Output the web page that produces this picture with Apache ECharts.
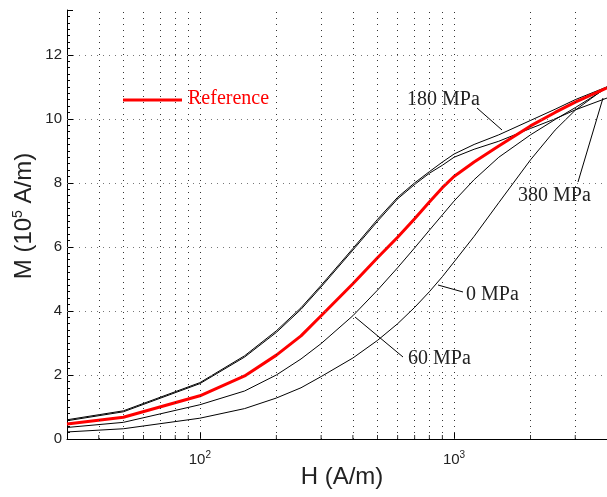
<!DOCTYPE html>
<html>
<head>
<meta charset="utf-8">
<script src="https://cdn.jsdelivr.net/npm/echarts@6/dist/echarts.min.js"></script>
<style>html,body{margin:0;padding:0;background:#fff;}#c{width:607px;height:497px;}</style>
</head>
<body>
<div id="c"></div>
<script>
// H values (A/m) at which curves are sampled
var H = [30, 50, 100, 150, 200, 250, 300, 400, 500, 600, 700, 800, 900, 1000, 1200, 1500, 2000, 2500, 3000, 4000];
// M values (10^5 A/m)
var m0MPa   = [0.22, 0.32, 0.65, 0.95, 1.28, 1.6, 1.95, 2.53, 3.08, 3.6, 4.11, 4.6, 5.07, 5.53, 6.33, 7.38, 8.72, 9.65, 10.27, 11.0];
var m60MPa  = [0.36, 0.52, 1.07, 1.5, 2.0, 2.5, 2.98, 3.85, 4.65, 5.35, 5.97, 6.52, 7.0, 7.43, 8.1, 8.8, 9.5, 9.98, 10.35, 10.97];
var mRef    = [0.47, 0.68, 1.35, 1.97, 2.62, 3.22, 3.85, 4.85, 5.66, 6.3, 6.88, 7.4, 7.85, 8.2, 8.65, 9.15, 9.78, 10.2, 10.52, 10.97];
var m180MPa = [0.6, 0.88, 1.76, 2.6, 3.38, 4.1, 4.8, 5.95, 6.86, 7.55, 8.0, 8.35, 8.65, 8.9, 9.2, 9.5, 9.95, 10.3, 10.6, 11.0];
var m380MPa = [0.57, 0.85, 1.73, 2.56, 3.33, 4.05, 4.75, 5.9, 6.8, 7.5, 7.95, 8.3, 8.55, 8.8, 9.05, 9.3, 9.7, 10.0, 10.28, 10.65];
// grid / tick positions
var xMinorTicks = [40, 50, 60, 70, 80, 90, 200, 300, 400, 500, 600, 700, 800, 900, 2000, 3000];
var xGridLines = [40, 50, 60, 70, 80, 90, 100, 200, 300, 400, 500, 600, 700, 800, 900, 1000, 2000, 3000];
var yGridLines = [2, 4, 6, 8, 10, 12];

function pts(ys){ return H.map(function(h,i){ return [h, ys[i]]; }); }

var chart = echarts.init(document.getElementById('c'));
var curveBlack = {color:'#000', width:1};
var TF = '"Liberation Sans", Arial, sans-serif';

var option = {
  animation: false,
  grid: {left: 67, top: 10, right: -5, bottom: 58},
  xAxis: {
    type: 'log', logBase: 10, min: 30, max: 4000,
    axisLine: {lineStyle: {color: '#000', width: 1}},
    axisTick: {inside: true, length: 7, lineStyle: {color: '#000'}},
    splitLine: {show: false},
    axisLabel: {
      margin: 11, color: '#222', fontFamily: TF, fontSize: 15,
      showMinLabel: false, showMaxLabel: false,
      formatter: function(v){
        if (Math.abs(v-100) < 1e-6) return '{b|10}{s|2}';
        if (Math.abs(v-1000) < 1e-6) return '{b|10}{s|3}';
        return '';
      },
      rich: {
        b: {fontFamily: TF, fontSize: 15, color: '#222'},
        s: {fontFamily: TF, fontSize: 10, color: '#222', padding: [0,0,10,0]}
      }
    }
  },
  yAxis: {
    type: 'value', min: 0, max: 13.4, interval: 2,
    axisLine: {show: true, lineStyle: {color: '#000', width: 1}},
    axisTick: {inside: true, length: 6, lineStyle: {color: '#000'}},
    minorTick: {show: true, splitNumber: 10, length: 3, lineStyle: {color: '#000'}},
    splitLine: {show: false},
    axisLabel: {
      margin: 5, color: '#222', fontFamily: TF, fontSize: 15,
      showMaxLabel: false,
      formatter: function(v){ return (v % 2 === 0 && v <= 12) ? String(v) : ''; }
    }
  },
  series: [
    {
      type: 'scatter', silent: true, z: 1,
      data: xMinorTicks.map(function(h){ return [h, 0]; }),
      symbol: 'rect', symbolSize: [1, 4], symbolOffset: [0, -2],
      itemStyle: {color: '#000'},
      markLine: {
        silent: true, symbol: 'none', label: {show: false},
        data: xGridLines.map(function(h){ return {xAxis: h, lineStyle: {type:[1,5], color:'#333', width:1}}; })
          .concat(yGridLines.map(function(y){ return {yAxis: y, lineStyle: {type:[1,5], color:'#777', width:1}}; }))
      }
    },
    {type: 'line', data: pts(m0MPa), showSymbol: false, lineStyle: curveBlack, itemStyle:{color:'#000'}, z: 3},
    {type: 'line', data: pts(m60MPa), showSymbol: false, lineStyle: curveBlack, itemStyle:{color:'#000'}, z: 3},
    {type: 'line', data: pts(m180MPa), showSymbol: false, lineStyle: curveBlack, itemStyle:{color:'#000'}, z: 3},
    {type: 'line', data: pts(m380MPa), showSymbol: false, lineStyle: curveBlack, itemStyle:{color:'#000'}, z: 3},
    {type: 'line', data: pts(mRef), showSymbol: false, lineStyle: {color: '#ff0000', width: 3}, itemStyle:{color:'#ff0000'}, z: 4}
  ],
  graphic: [
    {type: 'text', x: 24, y: 216, rotation: Math.PI/2,
     style: {text: '{b|M (10}{s|5}{b| A/m)}', align: 'center', verticalAlign: 'middle',
       rich: {b: {fontFamily: TF, fontSize: 24, fill: '#222'}, s: {fontFamily: TF, fontSize: 14, fill: '#222', padding: [0,0,12,0]}}}, z: 10},
    {type: 'text', x: 342, y: 477, style: {text: 'H (A/m)', font: '24px "Liberation Sans"', fill: '#222', align: 'center', verticalAlign: 'middle'}, z: 10},
    {type: 'line', shape: {x1: 123, y1: 100, x2: 182, y2: 100}, style: {stroke: '#ff0000', lineWidth: 3}, z: 10},
    {type: 'text', x: 188, y: 99, style: {text: 'Reference', font: '20px "Liberation Serif"', fill: '#ff0000', verticalAlign: 'middle'}, z: 10},
    {type: 'text', x: 407, y: 100, style: {text: '180 MPa', font: '20px "Liberation Serif"', fill: '#222', verticalAlign: 'middle'}, z: 10},
    {type: 'line', shape: {x1: 477, y1: 108, x2: 502, y2: 130}, style: {stroke: '#000', lineWidth: 1}, z: 10},
    {type: 'text', x: 518, y: 196, style: {text: '380 MPa', font: '20px "Liberation Serif"', fill: '#222', verticalAlign: 'middle'}, z: 10},
    {type: 'line', shape: {x1: 578, y1: 182, x2: 603, y2: 98}, style: {stroke: '#000', lineWidth: 1}, z: 10},
    {type: 'text', x: 466, y: 295, style: {text: '0 MPa', font: '20px "Liberation Serif"', fill: '#222', verticalAlign: 'middle'}, z: 10},
    {type: 'line', shape: {x1: 438, y1: 285, x2: 463, y2: 292}, style: {stroke: '#000', lineWidth: 1}, z: 10},
    {type: 'text', x: 408, y: 359, style: {text: '60 MPa', font: '20px "Liberation Serif"', fill: '#222', verticalAlign: 'middle'}, z: 10},
    {type: 'line', shape: {x1: 355, y1: 317, x2: 403, y2: 357}, style: {stroke: '#000', lineWidth: 1}, z: 10}
  ]
};
chart.setOption(option);
</script>
</body>
</html>
